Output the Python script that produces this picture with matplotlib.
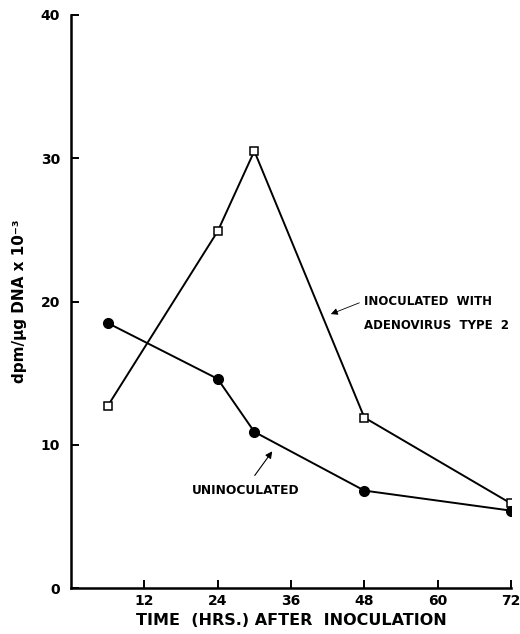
import matplotlib
matplotlib.use("Agg")
import matplotlib.pyplot as plt

hours = [6, 24, 30, 48, 72]
inoculated = [12.7, 24.9, 30.5, 11.9, 5.9]
uninoculated = [18.5, 14.6, 10.9, 6.8, 5.4]
x_ticks = [12, 24, 36, 48, 60, 72]
y_ticks = [0, 10, 20, 30, 40]

plt.rcParams['font.family'] = ['DejaVu Sans']
fig = plt.figure(figsize=(5.2, 6.34), dpi=100)
ax = fig.add_axes([71/520, 1-588/634, 440/520, 573/634])

ax.plot(hours, inoculated, color='black', lw=1.4, marker='s', ms=6,
        mfc='white', mec='black', mew=1.1, zorder=3)
ax.plot(hours, uninoculated, color='black', lw=1.4, marker='o', ms=7,
        mfc='black', mec='black', zorder=3)

ax.set_xlim(0, 72)
ax.set_ylim(0, 40)
ax.set_xticks(x_ticks)
ax.set_yticks(y_ticks)
ax.spines['top'].set_visible(False)
ax.spines['right'].set_visible(False)
for s in ['left', 'bottom']:
    ax.spines[s].set_linewidth(1.8)
    ax.spines[s].set_clip_on(False)
ax.tick_params(direction='in', length=6, width=1.4, labelsize=10)
for lab in ax.get_xticklabels() + ax.get_yticklabels():
    lab.set_fontweight('bold')
ax.tick_params(axis='x', pad=4)
ax.tick_params(axis='y', pad=8)

ax.set_xlabel('TIME  (HRS.) AFTER  INOCULATION', fontsize=11.5, fontweight='bold', labelpad=4)
ax.set_ylabel('dpm/μg DNA x 10⁻³', fontsize=11, fontweight='bold', labelpad=10)

ax.text(48, 20.0, 'INOCULATED  WITH', fontsize=8.5, fontweight='bold', va='center', ha='left')
ax.text(48, 18.3, 'ADENOVIRUS  TYPE  2', fontsize=8.5, fontweight='bold', va='center', ha='left')
ax.annotate('', xy=(42.1, 19.05), xytext=(47.6, 19.98),
            arrowprops=dict(arrowstyle='-|>', color='black', lw=0.6, mutation_scale=10))

ax.text(19.8, 6.8, 'UNINOCULATED', fontsize=8.8, fontweight='bold', va='center', ha='left')
ax.annotate('', xy=(33.2, 9.7), xytext=(29.8, 7.7),
            arrowprops=dict(arrowstyle='-|>', color='black', lw=0.8, mutation_scale=10))

fig.savefig('out.png', dpi=100)
